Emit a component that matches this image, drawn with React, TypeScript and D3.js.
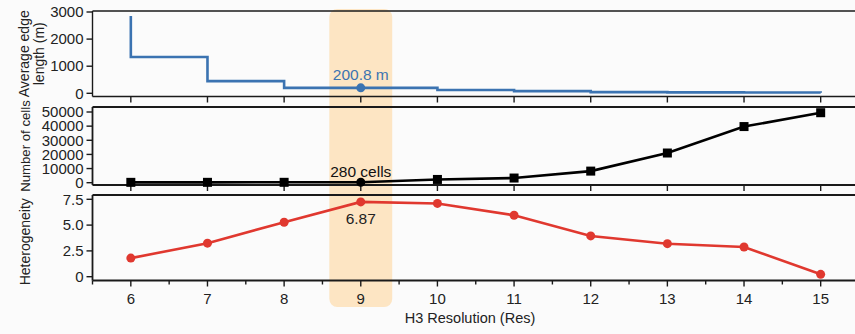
import React from "react";
import * as d3 from "d3";

const resolutions = [6, 7, 8, 9, 10, 11, 12, 13, 14, 15];
const edgeStartValue = 2850;
const edgeLength = [1340, 450, 200, 200.8, 120, 80, 45, 35, 28, 22];
const cellCounts = [250, 260, 270, 280, 2300, 3300, 8200, 21000, 39700, 49500];
const heterogeneity = [1.8, 3.25, 5.28, 7.25, 7.1, 5.95, 3.95, 3.2, 2.88, 0.23];

const edgeTicks = [0, 1000, 2000, 3000];
const cellTicks = [0, 10000, 20000, 30000, 40000, 50000];
const hetTicks = [0, 2.5, 5, 7.5];
const hetTickLabels = ["0", "2.5", "5.0", "7.5"];
const xMinorTicks = [5.5, 6.5, 7.5, 8.5, 9.5, 10.5, 11.5, 12.5, 13.5, 14.5, 15.5];

const FONT = "'Liberation Sans', Arial, Helvetica, sans-serif";
const BLUE = "#3b73b1";
const RED = "#e0382f";
const AXIS = "#1a1a1a";

export default function App() {
  const W = 855;
  const H = 334;
  const left = 92.5;
  const x = d3.scaleLinear().domain([5.5, 15.5]).range([left, 859]);

  const p1 = { top: 11, bottom: 96.5 };
  const p2 = { top: 107, bottom: 185 };
  const p3 = { top: 195, bottom: 280.5 };

  const y1 = d3.scaleLinear().domain([0, 3000]).range([93.3, 12]);
  const y2 = d3.scaleLinear().domain([0, 50000]).range([182.7, 112]);
  const y3 = d3.scaleLinear().domain([0, 7.5]).range([276.7, 199.3]);

  const edgePts: [number, number][] = [[6, edgeStartValue], ...resolutions.map((r, i) => [r, edgeLength[i]] as [number, number])];
  const edgeLine = d3
    .line<[number, number]>()
    .x((d) => x(d[0]))
    .y((d) => y1(d[1]))
    .curve(d3.curveStepAfter)(edgePts);

  const cellLine = d3
    .line<number>()
    .x((_, i) => x(resolutions[i]))
    .y((d) => y2(d))(cellCounts);

  const hetLine = d3
    .line<number>()
    .x((_, i) => x(resolutions[i]))
    .y((d) => y3(d))(heterogeneity);

  const bandHalf = 0.41;

  const frame = (p: { top: number; bottom: number }, key: string, sw = 1.6) => (
    <g key={key}>
      <line x1={left} x2={W} y1={p.top} y2={p.top} stroke={AXIS} strokeWidth={sw} />
      <line x1={left} x2={W} y1={p.bottom} y2={p.bottom} stroke={AXIS} strokeWidth={sw} />
      <line x1={left} x2={left} y1={p.top} y2={p.bottom} stroke={AXIS} strokeWidth={sw} />
    </g>
  );

  const yAxis = (scale: d3.ScaleLinear<number, number>, ticks: number[], labels: string[], key: string) => (
    <g key={key}>
      {ticks.map((t, i) => (
        <g key={i}>
          <line x1={left - 6} x2={left} y1={scale(t)} y2={scale(t)} stroke={AXIS} strokeWidth={1.4} />
          <text x={left - 9} y={scale(t)} dy="0.35em" textAnchor="end" fontSize={15} fill="#222">
            {labels[i]}
          </text>
        </g>
      ))}
    </g>
  );

  const xTicks = (p: { bottom: number }, key: string) => (
    <g key={key}>
      {resolutions.map((r) => (
        <line key={r} x1={x(r)} x2={x(r)} y1={p.bottom} y2={p.bottom + 6} stroke={AXIS} strokeWidth={1.4} />
      ))}
    </g>
  );

  return (
    <svg
      width={W}
      height={H}
      style={{ position: "absolute", left: 0, top: 0, background: "#fbfbfb" }}
      fontFamily={FONT}
    >
      <rect
        x={x(9 - bandHalf)}
        y={9}
        width={x(9 + bandHalf) - x(9 - bandHalf)}
        height={307 - 9}
        rx={8}
        fill="#fde2bd"
        opacity={0.9}
      />

      {frame(p1, "f1", 1.4)}
      {frame(p2, "f2", 1.8)}
      {frame(p3, "f3", 1.8)}

      {yAxis(y1, edgeTicks, edgeTicks.map(String), "a1")}
      {yAxis(y2, cellTicks, cellTicks.map(String), "a2")}
      {yAxis(y3, hetTicks, hetTickLabels, "a3")}

      {xTicks(p1, "x1")}
      {xTicks(p2, "x2")}
      {xTicks(p3, "x3")}
      {xMinorTicks.map((t) => (
        <line key={t} x1={x(t)} x2={x(t)} y1={p3.bottom} y2={p3.bottom + 4} stroke={AXIS} strokeWidth={1.4} />
      ))}
      {resolutions.map((r) => (
        <text key={r} x={x(r)} y={299} dy="0.35em" textAnchor="middle" fontSize={15} fill="#222">
          {r}
        </text>
      ))}
      <text x={470} y={318} dy="0.35em" textAnchor="middle" fontSize={14.5} fill="#222">
        H3 Resolution (Res)
      </text>

      {/* Y labels */}
      <text transform={`translate(24,${(p1.top + p1.bottom) / 2}) rotate(-90)`} textAnchor="middle" dy="0.35em" fontSize={14} fill="#222">
        Average edge
      </text>
      <text transform={`translate(39,${(p1.top + p1.bottom) / 2}) rotate(-90)`} textAnchor="middle" dy="0.35em" fontSize={14} fill="#222">
        length (m)
      </text>
      <text transform={`translate(25,${(p2.top + p2.bottom) / 2}) rotate(-90)`} textAnchor="middle" dy="0.35em" fontSize={13.2} fill="#222">
        Number of cells
      </text>
      <text transform={`translate(25,${(p3.top + p3.bottom) / 2 + 4}) rotate(-90)`} textAnchor="middle" dy="0.35em" fontSize={14} fill="#222">
        Heterogeneity
      </text>

      {/* Series */}
      <path d={edgeLine || ""} fill="none" stroke={BLUE} strokeWidth={2.6} />
      <circle cx={x(9)} cy={y1(edgeLength[3])} r={4.5} fill={BLUE} />
      <text x={x(9)} y={75} dy="0.35em" textAnchor="middle" fontSize={15.5} fill={BLUE}>
        200.8 m
      </text>

      <path d={cellLine || ""} fill="none" stroke="#000" strokeWidth={2.6} />
      {cellCounts.map((c, i) =>
        resolutions[i] === 9 ? (
          <circle key={i} cx={x(resolutions[i])} cy={y2(c)} r={4.5} fill="#000" />
        ) : (
          <rect key={i} x={x(resolutions[i]) - 4.5} y={y2(c) - 4.5} width={9} height={9} fill="#000" />
        )
      )}
      <text x={x(9)} y={172} dy="0.35em" textAnchor="middle" fontSize={15.5} fill="#111">
        280 cells
      </text>

      <path d={hetLine || ""} fill="none" stroke={RED} strokeWidth={2.6} />
      {heterogeneity.map((h, i) => (
        <circle key={i} cx={x(resolutions[i])} cy={y3(h)} r={4.5} fill={RED} />
      ))}
      <text x={x(9)} y={219} dy="0.35em" textAnchor="middle" fontSize={15.5} fill="#222">
        6.87
      </text>
    </svg>
  );
}
